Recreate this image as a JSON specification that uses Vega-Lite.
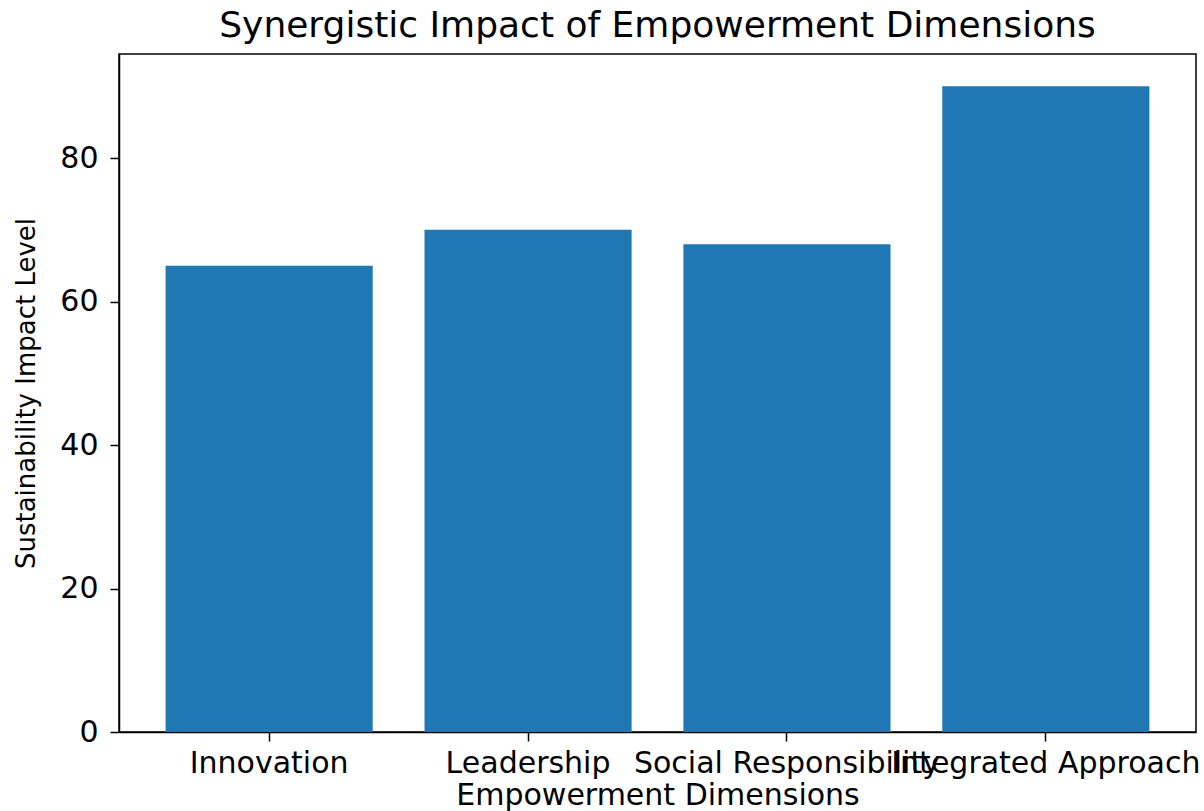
{
  "$schema": "https://vega.github.io/schema/vega-lite/v6.json",
  "autosize": {"type": "none"},
  "padding": {"left": 119, "top": 54, "right": 8, "bottom": 79},
  "width": 1077,
  "height": 678,
  "background": "white",
  "title": {
    "text": "Synergistic Impact of Empowerment Dimensions",
    "font": "DejaVu Sans",
    "fontSize": 36,
    "fontWeight": "normal",
    "color": "#000000",
    "anchor": "middle",
    "offset": 9
  },
  "data": {
    "values": [
      {"dimension": "Innovation", "impact": 65},
      {"dimension": "Leadership", "impact": 70},
      {"dimension": "Social Responsibility", "impact": 68},
      {"dimension": "Integrated Approach", "impact": 90}
    ]
  },
  "mark": {"type": "bar", "color": "#1f77b4"},
  "encoding": {
    "x": {
      "field": "dimension",
      "type": "nominal",
      "sort": null,
      "scale": {"paddingInner": 0.2, "paddingOuter": 0.18},
      "axis": {
        "title": "Empowerment Dimensions",
        "labelAngle": 0,
        "labelOverlap": false,
        "labelBound": false,
        "labelLimit": 0,
        "labelPadding": 7,
        "titlePadding": 2,
        "labelFontSize": 30,
        "titleFontSize": 30
      }
    },
    "y": {
      "field": "impact",
      "type": "quantitative",
      "scale": {"domain": [0, 94.5], "nice": false, "zero": true},
      "axis": {
        "title": "Sustainability Impact Level",
        "values": [0, 20, 40, 60, 80],
        "labelPadding": 12,
        "titlePadding": 20,
        "labelFontSize": 30,
        "titleFontSize": 26,
        "grid": false
      }
    }
  },
  "config": {
    "font": "DejaVu Sans",
    "view": {"stroke": "#000000", "strokeWidth": 1.5},
    "axis": {
      "domainColor": "#000000",
      "domainWidth": 1.5,
      "tickColor": "#000000",
      "tickWidth": 1.5,
      "tickSize": 9,
      "labelFont": "DejaVu Sans",
      "labelColor": "#000000",
      "titleFont": "DejaVu Sans",
      "titleFontWeight": "normal",
      "titleColor": "#000000",
      "grid": false
    }
  }
}
